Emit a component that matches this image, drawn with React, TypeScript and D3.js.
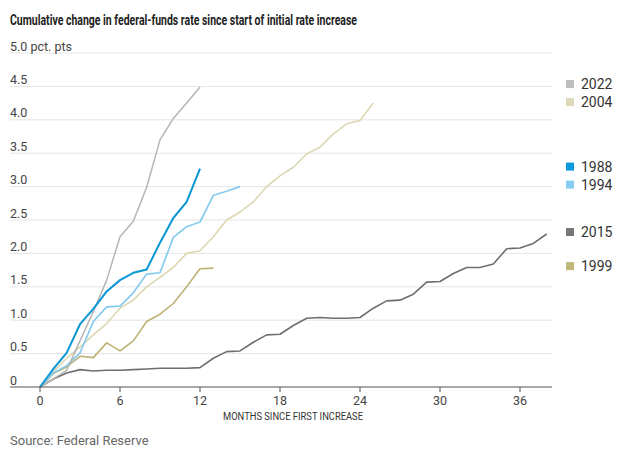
import React from 'react'
import * as d3 from 'd3'

const months = d3.range(0, 39)

const s2022 = [0, 0.12, 0.25, 0.69, 1.13, 1.6, 2.25, 2.48, 2.99, 3.7, 4.02, 4.25, 4.49]
const s2004 = [0, 0.23, 0.43, 0.6, 0.78, 0.95, 1.18, 1.3, 1.5, 1.64, 1.79, 2.0, 2.04, 2.25, 2.5, 2.62, 2.77, 3.0, 3.16, 3.29, 3.49, 3.59, 3.79, 3.94, 3.99, 4.25]
const s1988 = [0, 0.27, 0.51, 0.94, 1.17, 1.43, 1.6, 1.71, 1.76, 2.16, 2.53, 2.77, 3.27]
const s1994 = [0, 0.21, 0.32, 0.51, 0.98, 1.2, 1.21, 1.41, 1.69, 1.71, 2.24, 2.4, 2.47, 2.87, 2.93, 3.0]
const s2015 = [0, 0.12, 0.21, 0.26, 0.24, 0.25, 0.25, 0.26, 0.27, 0.28, 0.28, 0.28, 0.29, 0.43, 0.53, 0.54, 0.67, 0.78, 0.79, 0.92, 1.03, 1.04, 1.03, 1.03, 1.04, 1.18, 1.29, 1.3, 1.39, 1.57, 1.58, 1.7, 1.79, 1.79, 1.84, 2.07, 2.08, 2.15, 2.29]
const s1999 = [0, 0.2, 0.3, 0.46, 0.44, 0.66, 0.54, 0.69, 0.98, 1.09, 1.25, 1.5, 1.77, 1.78]

const yTicks = [0, 0.5, 1.0, 1.5, 2.0, 2.5, 3.0, 3.5, 4.0, 4.5, 5.0]
const xTicks = [0, 6, 12, 18, 24, 30, 36]

const series = [
  { name: '2015', values: s2015, color: '#6e6e6e', swatch: '#777777', width: 1.6 },
  { name: '1999', values: s1999, color: '#bdb274', swatch: '#c2b87a', width: 1.6 },
  { name: '2004', values: s2004, color: '#dcd7b1', swatch: '#ddd9b8', width: 1.6 },
  { name: '1994', values: s1994, color: '#86cbee', swatch: '#86cff0', width: 1.7 },
  { name: '2022', values: s2022, color: '#b5b5b5', swatch: '#bdbdbd', width: 1.5 },
  { name: '1988', values: s1988, color: '#0b96d4', swatch: '#0a9be0', width: 2 },
]

const legendOrder = ['2022', '2004', '1988', '1994', '2015', '1999']

const FONT = "'Liberation Sans Narrow', 'Roboto', 'Liberation Sans', sans-serif"

export default function App() {
  const width = 640
  const height = 452
  const x = d3.scaleLinear().domain([0, 38.4]).range([40, 552])
  const y = d3.scaleLinear().domain([0, 5]).range([387, 53])

  const line = d3.line<number>()
    .x((_, i) => x(months[i]))
    .y(d => y(d))

  // legend labels sit at each series' end value, nudged apart
  const items = legendOrder.map(name => {
    const s = series.find(d => d.name === name)!
    return { ...s, ly: y(s.values[s.values.length - 1]) - 2 }
  })
  for (let iter = 0; iter < 20; iter++) {
    for (let i = 1; i < items.length; i++) {
      const gap = items[i].ly - items[i - 1].ly
      if (gap < 18) {
        const push = (18 - gap) / 2
        items[i].ly += push
        items[i - 1].ly -= push
      }
    }
  }

  return (
    <svg width={width} height={height} style={{ position: 'absolute', left: 0, top: 0, background: '#fff' }} fontFamily={FONT}>
      <text x={10} y={25} fontSize={15} fontWeight="bold" fill="#222" textLength={347} lengthAdjust="spacingAndGlyphs">
        Cumulative change in federal-funds rate since start of initial rate increase
      </text>

      {yTicks.map(t => (
        <g key={t}>
          {t > 0 && <line x1={10} x2={552} y1={y(t)} y2={y(t)} stroke="#e5e5e5" strokeWidth={1} />}
          <text x={10} y={y(t) - 2.5} fontSize={12.5} fill="#444">
            {t === 0 ? '0' : t.toFixed(1)}{t === 5 ? ' pct. pts' : ''}
          </text>
        </g>
      ))}

      {series.map(s => (
        <path key={s.name} d={line(s.values) || ''} fill="none" stroke={s.color} strokeWidth={s.width} strokeLinejoin="round" />
      ))}

      <line x1={10} x2={552} y1={387} y2={387} stroke="#555" strokeWidth={1.2} />
      {xTicks.map(t => (
        <g key={t}>
          <line x1={x(t)} x2={x(t)} y1={387} y2={392} stroke="#555" strokeWidth={1} />
          <text x={x(t)} y={405} fontSize={12.5} fill="#444" textAnchor="middle">{t}</text>
        </g>
      ))}
      <text x={293} y={420} fontSize={11.5} fill="#333" textAnchor="middle" textLength={140} lengthAdjust="spacingAndGlyphs">
        MONTHS SINCE FIRST INCREASE
      </text>

      {items.map(s => (
        <g key={s.name}>
          <rect x={566} y={s.ly - 4} width={8} height={8} fill={s.swatch} />
          <text x={581} y={s.ly + 5} fontSize={14} fill="#333">{s.name}</text>
        </g>
      ))}

      <text x={10} y={445} fontSize={13} fill="#666">Source: Federal Reserve</text>
    </svg>
  )
}
